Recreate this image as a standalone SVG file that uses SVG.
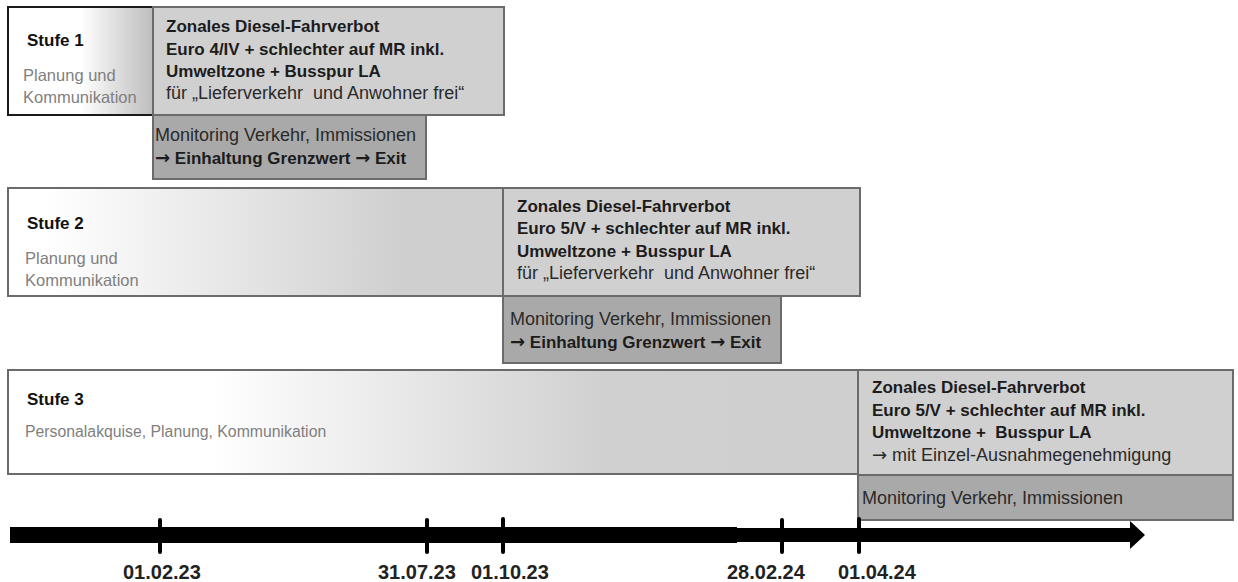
<svg xmlns="http://www.w3.org/2000/svg" width="1238" height="582" viewBox="0 0 1238 582">
<defs>
<linearGradient id="g1" x1="0" y1="0" x2="1" y2="0">
<stop offset="0" stop-color="#ffffff"/><stop offset="0.5" stop-color="#ffffff"/><stop offset="1" stop-color="#bdbdbd"/>
</linearGradient>
<linearGradient id="g2" x1="0" y1="0" x2="1" y2="0">
<stop offset="0" stop-color="#ffffff"/><stop offset="0.08" stop-color="#ffffff"/><stop offset="0.8" stop-color="#cfcfcf"/><stop offset="1" stop-color="#cfcfcf"/>
</linearGradient>
<linearGradient id="g3" x1="0" y1="0" x2="1" y2="0">
<stop offset="0" stop-color="#ffffff"/><stop offset="0.24" stop-color="#ffffff"/><stop offset="0.7" stop-color="#d0d0d0"/><stop offset="1" stop-color="#cfcfcf"/>
</linearGradient>
</defs>
<style>
text{font-family:"Liberation Sans",Arial,sans-serif;}
.zb{fill:#d0d0d0;stroke:#6b6b6b;stroke-width:2;}
.mb{fill:#a9a9a9;stroke:#6b6b6b;stroke-width:2;}
.sb{stroke:#6b6b6b;stroke-width:2;}
.b{font-weight:bold;font-size:17px;fill:#1c1c1c;}
.r{font-size:18px;fill:#2a2a2a;}
.st{font-weight:bold;font-size:17px;fill:#111;}
.sub{font-size:16.5px;fill:#7f7f7f;}
.d{font-weight:bold;font-size:20px;fill:#222;}
.ar{font-family:"DejaVu Sans",sans-serif;font-weight:bold;font-size:18px;}
.tick{stroke:#000;stroke-width:4;stroke-linecap:round;}
</style>

<g id="stufe1">
<rect x="8" y="7" width="145" height="108" fill="url(#g1)" stroke="#1a1a1a" stroke-width="2"/>
<text class="st" x="27" y="46">Stufe 1</text>
<text class="sub" x="23" y="81">Planung und</text>
<text class="sub" x="23" y="103">Kommunikation</text>
</g>
<g id="verbot1">
<rect class="zb" x="153" y="7" width="351" height="108"/>
<text class="b" x="166" y="32">Zonales Diesel-Fahrverbot</text>
<text class="b" x="166" y="55">Euro 4/IV + schlechter auf MR inkl.</text>
<text class="b" x="166" y="77">Umweltzone + Busspur LA</text>
<text class="r" x="166" y="99" xml:space="preserve">für „Lieferverkehr  und Anwohner frei“</text>
</g>
<g id="monitoring1">
<rect class="mb" x="153" y="115" width="273" height="64"/>
<text class="r" x="155" y="141">Monitoring Verkehr, Immissionen</text>
<text class="b" x="155" y="164"><tspan class="ar">→</tspan> Einhaltung Grenzwert <tspan class="ar">→</tspan> Exit</text>
</g>

<g id="stufe2">
<rect class="sb" x="8" y="188" width="495" height="108" fill="url(#g2)"/>
<text class="st" x="27" y="229">Stufe 2</text>
<text class="sub" x="25" y="264">Planung und</text>
<text class="sub" x="25" y="286">Kommunikation</text>
</g>
<g id="verbot2">
<rect class="zb" x="503" y="188" width="357" height="108"/>
<text class="b" x="517" y="212">Zonales Diesel-Fahrverbot</text>
<text class="b" x="517" y="234">Euro 5/V + schlechter auf MR inkl.</text>
<text class="b" x="517" y="257">Umweltzone + Busspur LA</text>
<text class="r" x="517" y="279" xml:space="preserve">für „Lieferverkehr  und Anwohner frei“</text>
</g>
<g id="monitoring2">
<rect class="mb" x="503" y="296" width="278" height="67"/>
<text class="r" x="510" y="325">Monitoring Verkehr, Immissionen</text>
<text class="b" x="510" y="348"><tspan class="ar">→</tspan> Einhaltung Grenzwert <tspan class="ar">→</tspan> Exit</text>
</g>

<g id="stufe3">
<rect class="sb" x="8" y="370" width="850" height="104" fill="url(#g3)"/>
<text class="st" x="27" y="405">Stufe 3</text>
<text class="sub" x="25" y="437" style="font-size:15.8px">Personalakquise, Planung, Kommunikation</text>
</g>
<g id="verbot3">
<rect class="zb" x="858" y="370" width="375" height="105"/>
<text class="b" x="872" y="393">Zonales Diesel-Fahrverbot</text>
<text class="b" x="872" y="416">Euro 5/V + schlechter auf MR inkl.</text>
<text class="b" x="872" y="438" xml:space="preserve">Umweltzone +  Busspur LA</text>
<text class="r" x="872" y="461"><tspan class="ar" style="font-weight:normal">→</tspan> mit Einzel-Ausnahmegenehmigung</text>
</g>
<g id="monitoring3">
<rect class="mb" x="858" y="475" width="375" height="45"/>
<text class="r" x="862" y="504">Monitoring Verkehr, Immissionen</text>
</g>

<g id="timeline">
<rect x="10" y="527" width="727" height="16" fill="#000"/>
<rect x="720" y="528" width="412" height="14" fill="#000"/>
<polygon points="1130,521 1145,535 1130,549" fill="#000"/>
<line class="tick" x1="160" y1="520" x2="160" y2="552"/>
<line class="tick" x1="427" y1="520" x2="427" y2="552"/>
<line class="tick" x1="503" y1="519" x2="503" y2="552"/>
<line class="tick" x1="782" y1="520" x2="782" y2="552"/>
<line class="tick" x1="859" y1="519" x2="859" y2="552"/>
<text class="d" x="123" y="579">01.02.23</text>
<text class="d" x="378" y="579">31.07.23</text>
<text class="d" x="471" y="579">01.10.23</text>
<text class="d" x="727" y="579">28.02.24</text>
<text class="d" x="838" y="579">01.04.24</text>
</g>
</svg>
